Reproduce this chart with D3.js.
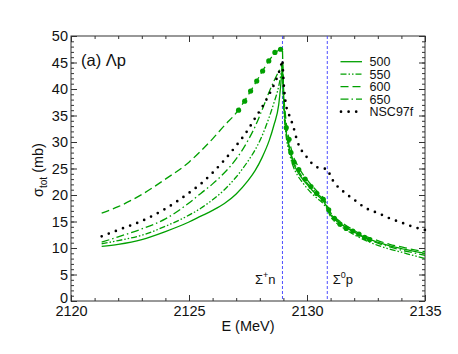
<!DOCTYPE html>
<html>
<head>
<meta charset="utf-8">
<script src="https://cdn.jsdelivr.net/npm/d3@7"></script>
<style>
  body { margin: 0; background: #fff; }
  svg { font-family: "Liberation Sans", Arial, sans-serif; }
  .axis path { display: none; }
  .axis line { stroke: #333; }
  .axis text { font-size: 14.5px; fill: #111; font-family: "Liberation Sans", Arial, sans-serif; }
</style>
</head>
<body>
<div id="chart"></div>
<script>
/* Lambda-p total cross section near the Sigma N thresholds */

const width = 458,
  height = 354,
  margin = ({ top: 36, right: 33, bottom: 53, left: 71 });

// energy grid (MeV), cusp at the Sigma+ n threshold
const energy = [2121.3, 2122, 2123, 2124, 2125, 2125.5, 2126, 2126.5, 2127, 2127.5,
  2127.8, 2128.1, 2128.4, 2128.6, 2128.8, 2128.96,
  2129.0, 2129.1, 2129.25, 2129.4, 2129.6, 2129.8, 2130.0, 2130.2, 2130.45, 2130.7,
  2130.86, 2131.0, 2131.2, 2131.5, 2132.0, 2132.5, 2133.0, 2133.5, 2134.0, 2134.5, 2135.0];

const sig500 = [10.3, 10.7, 11.6, 13.1, 14.9, 16.0, 17.1, 18.4, 20.2, 22.7,
  24.6, 27.1, 30.3, 33.2, 37.0, 44.5,
  39.0, 32.5, 28.8, 26.3, 24.4, 23.1, 22.0, 21.0, 19.9, 18.8,
  17.6, 16.3, 15.3, 14.3, 13.0, 11.9, 11.1, 10.4, 9.9, 9.4, 9.0];

const sig550 = [10.8, 11.4, 12.4, 14.1, 16.2, 17.5, 19.1, 21.0, 23.4, 26.4,
  28.5, 31.2, 34.7, 37.4, 40.5, 44.5,
  38.0, 31.8, 28.0, 25.6, 23.7, 22.4, 21.3, 20.3, 19.3, 18.3,
  17.3, 15.9, 14.9, 13.9, 12.5, 11.4, 10.5, 9.8, 9.2, 8.6, 8.0];

const sig600 = [16.6, 17.8, 20.1, 23.0, 26.2, 28.3, 30.6, 33.1, 35.5, 38.8,
  41.0, 43.3, 45.4, 46.6, 47.3, 47.6,
  41.0, 34.5, 30.3, 27.6, 25.6, 24.1, 22.9, 21.8, 20.6, 19.4,
  18.0, 16.7, 15.7, 14.7, 13.3, 12.2, 11.4, 10.7, 10.2, 9.7, 9.3];

const sig650 = [11.1, 12.1, 13.6, 15.5, 18.5, 20.3, 22.1, 24.2, 26.8, 30.3,
  32.9, 36.1, 39.5, 41.5, 43.3, 44.5,
  39.5, 33.2, 29.2, 26.7, 24.8, 23.4, 22.3, 21.3, 20.2, 19.1,
  17.8, 16.5, 15.5, 14.4, 13.0, 11.8, 10.9, 10.2, 9.6, 9.1, 8.6];

const sigNSC = [12.2, 13.4, 15.1, 17.4, 20.4, 22.1, 24.2, 26.6, 29.3, 32.3,
  34.5, 36.6, 39.0, 40.8, 43.0, 45.5,
  42.0, 37.3, 35.0, 33.2, 30.0, 28.2, 27.1, 26.0, 25.2, 25.0,
  24.9, 23.5, 22.1, 20.8, 19.1, 17.5, 16.6, 15.6, 14.8, 14.0, 13.4];

// filled green circles
const dataE = [2127.1, 2127.36, 2127.61, 2127.87, 2128.12, 2128.38, 2128.64, 2128.88,
  2129.12, 2129.24, 2129.32, 2129.45, 2129.65, 2129.92, 2130.17, 2130.41, 2130.69,
  2130.92, 2131.16, 2131.4, 2131.66, 2131.94, 2132.2, 2132.44, 2132.65];
const dataSig = [36.0, 37.7, 39.6, 41.5, 43.4, 45.3, 46.9, 47.5,
  32.7, 30.5, 28.0, 26.2, 24.8, 23.0, 21.6, 20.3, 19.2,
  17.2, 15.6, 14.5, 13.7, 13.2, 12.6, 12.0, 11.6];

const thresholds = [2128.96, 2130.86];
const thresholdLabels = [["Σ", "+", "n"], ["Σ", "0", "p"]];

const seriesNames = ["500", "550", "600", "650", "NSC97f"];
const xTicks = [2120, 2125, 2130, 2135];
const yTicks = d3.range(0, 51, 5);

const green = "#00a000";
const styles = {
  "500": { color: green, dash: null, w: 1.3 },
  "550": { color: green, dash: "6,2,1.5,2,1.5,2", w: 1.3 },
  "600": { color: green, dash: "8,4", w: 1.3 },
  "650": { color: green, dash: "8,3,1.5,3", w: 1.3 },
  "NSC97f": { color: "#000", dash: "0,7.6", w: 2.7 }
};
const values = { "500": sig500, "550": sig550, "600": sig600, "650": sig650, "NSC97f": sigNSC };

const svg = d3.select("#chart")
  .append("svg")
  .attr("width", width)
  .attr("height", height);

let x = d3.scaleLinear()
  .domain([2120, 2135])
  .range([margin.left, width - margin.right]);

let y = d3.scaleLinear()
  .domain([0, 50])
  .range([height - margin.bottom, margin.top]);

// minor ticks
svg.append("g").attr("class", "axis")
  .attr("transform", `translate(0,${height - margin.bottom})`)
  .call(d3.axisBottom(x).tickValues(d3.range(2120, 2136, 1)).tickSize(-3).tickFormat(""));
svg.append("g").attr("class", "axis")
  .attr("transform", `translate(0,${margin.top})`)
  .call(d3.axisTop(x).tickValues(d3.range(2120, 2136, 1)).tickSize(-3).tickFormat(""));
svg.append("g").attr("class", "axis")
  .attr("transform", `translate(${margin.left},0)`)
  .call(d3.axisLeft(y).tickValues(d3.range(0, 51, 1)).tickSize(-3).tickFormat(""));
svg.append("g").attr("class", "axis")
  .attr("transform", `translate(${width - margin.right},0)`)
  .call(d3.axisRight(y).tickValues(d3.range(0, 51, 1)).tickSize(-3).tickFormat(""));

// major ticks
svg.append("g").attr("class", "axis")
  .attr("transform", `translate(0,${height - margin.bottom})`)
  .call(d3.axisBottom(x).tickValues(xTicks).tickSize(-6).tickPadding(5).tickFormat(d3.format("d")));
svg.append("g").attr("class", "axis")
  .attr("transform", `translate(0,${margin.top})`)
  .call(d3.axisTop(x).tickValues(xTicks).tickSize(-6).tickFormat(""));
svg.append("g").attr("class", "axis y-major")
  .attr("transform", `translate(${margin.left},0)`)
  .call(d3.axisLeft(y).tickValues(yTicks).tickSize(-6).tickPadding(3));
svg.append("g").attr("class", "axis")
  .attr("transform", `translate(${width - margin.right},0)`)
  .call(d3.axisRight(y).tickValues(yTicks).tickSize(-6).tickFormat(""));

// nudge the "0" label up a little, as in the original
svg.selectAll(".y-major .tick text")
  .filter(d => d === 0)
  .attr("y", -3);

// frame
svg.append("rect")
  .attr("x", margin.left)
  .attr("y", margin.top)
  .attr("width", width - margin.left - margin.right)
  .attr("height", height - margin.top - margin.bottom)
  .attr("fill", "none")
  .attr("stroke", "#333")
  .attr("stroke-width", 1);

// threshold lines
svg.selectAll(".thr")
  .data(thresholds)
  .join("line")
  .attr("x1", d => x(d)).attr("x2", d => x(d))
  .attr("y1", margin.top).attr("y2", height - margin.bottom)
  .attr("stroke", "#3b3bff")
  .attr("stroke-width", 0.9)
  .attr("stroke-dasharray", "3,2");

thresholdLabels.forEach((lab, i) => {
  let t = svg.append("text")
    .attr("x", i === 0 ? x(thresholds[i]) - 27.5 : x(thresholds[i]) + 5.5)
    .attr("y", 284)
    .attr("font-size", 13)
    .attr("fill", "#111");
  t.append("tspan").text(lab[0]);
  t.append("tspan").attr("font-size", 9).attr("dy", -6).text(lab[1]);
  t.append("tspan").attr("dy", 6).text(lab[2]);
});

// curves: split at the cusp so each branch is smooth
const cusp = energy.indexOf(thresholds[0]);
let line = d3.line()
  .x(d => x(d[0]))
  .y(d => y(d[1]))
  .curve(d3.curveMonotoneX);

seriesNames.forEach(name => {
  let pts = energy.map((e, i) => [e, values[name][i]]);
  let left = pts.slice(0, cusp + 1);
  let right = pts.slice(cusp);
  let st = styles[name];
  svg.append("path")
    .attr("d", line(left) + line(right).replace(/^M/, "L"))
    .attr("fill", "none")
    .attr("stroke", st.color)
    .attr("stroke-width", st.w)
    .attr("stroke-dasharray", st.dash)
    .attr("stroke-linecap", name === "NSC97f" ? "round" : "butt");
});

// data circles
svg.selectAll(".pt")
  .data(dataE)
  .join("circle")
  .attr("cx", d => x(d))
  .attr("cy", (d, i) => y(dataSig[i]))
  .attr("r", 2.6)
  .attr("fill", green);

// legend
const legend = svg.append("g");
seriesNames.forEach((name, i) => {
  let ly = 61.7 + i * 12.5;
  let st = styles[name];
  legend.append("line")
    .attr("x1", name === "NSC97f" ? 341 : 340.5).attr("x2", 362)
    .attr("y1", ly).attr("y2", ly)
    .attr("stroke", st.color)
    .attr("stroke-width", st.w)
    .attr("stroke-dasharray", st.dash)
    .attr("stroke-linecap", name === "NSC97f" ? "round" : "butt");
  legend.append("text")
    .attr("x", 369.5)
    .attr("y", ly)
    .attr("dy", "0.36em")
    .attr("font-size", 12.5)
    .attr("fill", "#111")
    .text(name);
});

// panel label
svg.append("text")
  .attr("x", 81)
  .attr("y", 65.5)
  .attr("font-size", 16.5)
  .attr("fill", "#111")
  .text("(a) Λp");

// axis titles
svg.append("text")
  .attr("x", 248)
  .attr("y", 331)
  .attr("text-anchor", "middle")
  .attr("font-size", 14.5)
  .attr("fill", "#111")
  .text("E (MeV)");

let yl = svg.append("text")
  .attr("transform", "translate(43,170) rotate(-90)")
  .attr("text-anchor", "middle")
  .attr("font-size", 14.5)
  .attr("fill", "#111");
yl.append("tspan").text("σ");
yl.append("tspan").attr("font-size", 10).attr("dy", 3.5).text("tot");
yl.append("tspan").attr("dy", -3.5).text(" (mb)");
</script>
</body>
</html>
